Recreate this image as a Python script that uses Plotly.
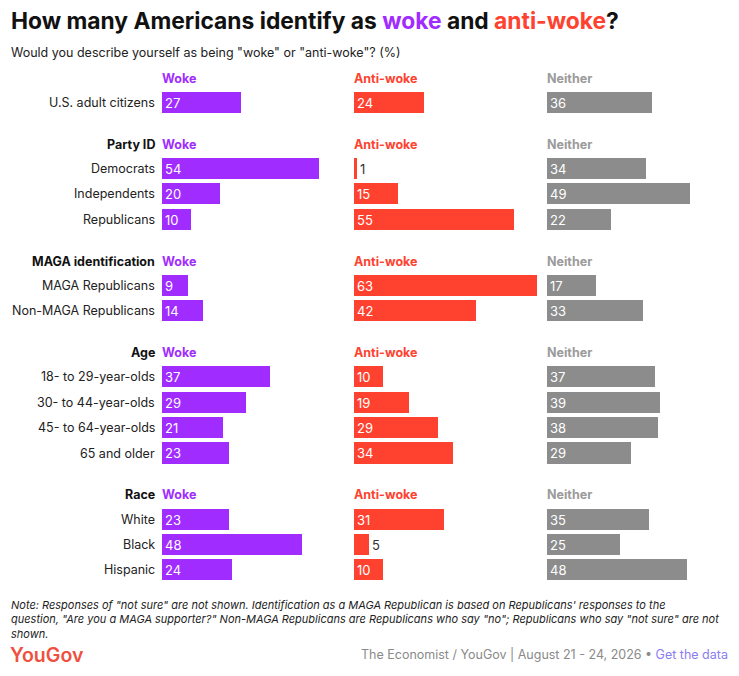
import plotly.graph_objects as go

# ---------------- data ----------------
group_names = ["", "Party ID", "MAGA identification", "Age", "Race"]
group_rows = [
    ["U.S. adult citizens"],
    ["Democrats", "Independents", "Republicans"],
    ["MAGA Republicans", "Non-MAGA Republicans"],
    ["18- to 29-year-olds", "30- to 44-year-olds", "45- to 64-year-olds", "65 and older"],
    ["White", "Black", "Hispanic"],
]
woke = [27, 54, 20, 10, 9, 14, 37, 29, 21, 23, 23, 48, 24]
anti_woke = [24, 1, 15, 55, 63, 42, 10, 19, 29, 34, 31, 5, 10]
neither = [36, 34, 49, 22, 17, 33, 37, 39, 38, 29, 35, 25, 48]
series_names = ["Woke", "Anti-woke", "Neither"]

# ---------------- styling ----------------
PAGE_W, PAGE_H = 739, 676
OX, OY = 8, 8                      # default page body margin
FW, FH = PAGE_W - 2 * OX, PAGE_H - 2 * OY
PURPLE = "#a12cff"
RED = "#ff4230"
GREY = "#8c8c8c"
HEAD_GREY = "#9b9b9b"
FONT = "Inter, Roboto, sans-serif"
colors = [PURPLE, RED, GREY]
head_colors = [PURPLE, RED, HEAD_GREY]

PX_PER_UNIT = 2.91
panel_left = [162, 354, 547]
panel_right = [350, 543, OX + FW]

ROW_PX = 25.4
FIRST_ROW_PX = 102.5
GROUP_GAP = 1.6
HEADER_OFF = 0.95


def fx(px):
    return (px - OX) / FW


def fy(py):
    return 1 - (py - OY) / FH


# row positions (in row units) computed from group structure
row_pos, row_labels, header_pos = [], [], []
cursor = 0.0
for gname, rows in zip(group_names, group_rows):
    header_pos.append(cursor - HEADER_OFF)
    for i, r in enumerate(rows):
        row_pos.append(cursor + i)
        row_labels.append(r)
    cursor += len(rows) + GROUP_GAP

y_top = (OY - FIRST_ROW_PX) / ROW_PX
y_bot = (OY + FH - FIRST_ROW_PX) / ROW_PX

fig = go.Figure()
all_vals = [woke, anti_woke, neither]
axes = ["x", "x2", "x3"]
for k, vals in enumerate(all_vals):
    pos = ["inside" if v * PX_PER_UNIT > 22 else "outside" for v in vals]
    tcol = ["white" if p == "inside" else "#333333" for p in pos]
    fig.add_trace(go.Bar(
        x=vals, y=row_pos, orientation="h",
        marker=dict(color=colors[k], line=dict(width=0)),
        width=0.83,
        text=[str(v) for v in vals],
        textposition=pos,
        textangle=0,
        insidetextanchor="start",
        textfont=dict(family=FONT, size=13, color=tcol),
        cliponaxis=False,
        xaxis=axes[k], yaxis="y",
        showlegend=False, hoverinfo="skip",
        name=series_names[k],
    ))


def xaxis_cfg(k):
    left, right = panel_left[k], panel_right[k]
    return dict(domain=[fx(left), fx(right)], anchor="y",
                range=[0, (right - left) / PX_PER_UNIT],
                showgrid=False, zeroline=False, showticklabels=False,
                showline=False, ticks="", fixedrange=True)


fig.update_layout(
    width=FW, height=FH,
    margin=dict(l=0, r=0, t=0, b=0),
    paper_bgcolor="white", plot_bgcolor="white",
    xaxis=xaxis_cfg(0), xaxis2=xaxis_cfg(1), xaxis3=xaxis_cfg(2),
    yaxis=dict(domain=[0, 1], range=[y_bot, y_top], showgrid=False, zeroline=False,
               showticklabels=False, ticks="", showline=False, anchor="x"),
    bargap=0,
    uniformtext=dict(minsize=13, mode="show"),
)

ann = []
# row labels
for y, lab in zip(row_pos, row_labels):
    ann.append(dict(x=fx(157), xref="paper", y=y, yref="y", text=lab, showarrow=False,
                    xanchor="right", yanchor="middle",
                    font=dict(family=FONT, size=12.5, color="#222222")))
# headers
for y, g in zip(header_pos, group_names):
    if g:
        ann.append(dict(x=fx(157), xref="paper", y=y, yref="y", text="<b>%s</b>" % g,
                        showarrow=False, xanchor="right", yanchor="middle",
                        font=dict(family=FONT, size=12.5, color="#111111")))
    for k in range(3):
        ann.append(dict(x=0, xref=axes[k], y=y, yref="y", text="<b>%s</b>" % series_names[k],
                        showarrow=False, xanchor="left", yanchor="middle", xshift=-2,
                        font=dict(family=FONT, size=12.5, color=head_colors[k])))

# title / subtitle
ann.append(dict(x=fx(9), y=fy(21), xref="paper", yref="paper", xanchor="left", yanchor="middle",
                showarrow=False,
                text="<b>How many Americans identify as <span style='color:%s'>woke</span> and "
                     "<span style='color:%s'>anti-woke</span>?</b>" % (PURPLE, RED),
                font=dict(family=FONT, size=22.8, color="#111111")))
ann.append(dict(x=fx(9), y=fy(53), xref="paper", yref="paper", xanchor="left", yanchor="middle",
                showarrow=False,
                text='Would you describe yourself as being "woke" or "anti-woke"? (%)',
                font=dict(family=FONT, size=12.5, color="#222222")))
# note
ann.append(dict(x=fx(9), y=fy(619.5), xref="paper", yref="paper", xanchor="left", yanchor="middle",
                showarrow=False, align="left",
                text="<i>Note: Responses of \"not sure\" are not shown. Identification as a MAGA Republican is based on Republicans' responses to the<br>"
                     "question, \"Are you a MAGA supporter?\" Non-MAGA Republicans are Republicans who say \"no\"; Republicans who say \"not sure\" are not<br>"
                     "shown.</i>",
                font=dict(family=FONT, size=11, color="#222222")))
# logo
ann.append(dict(x=fx(8), y=fy(655), xref="paper", yref="paper", xanchor="left", yanchor="middle",
                showarrow=False, text="YouGov",
                font=dict(family=FONT, size=19.5, color="#f0503f", weight=600)))
ann.append(dict(x=fx(730), y=fy(654), xref="paper", yref="paper", xanchor="right", yanchor="middle",
                showarrow=False,
                text="The Economist / YouGov | August 21 - 24, 2026 • <span style='color:#8a7df2'>Get the data</span>",
                font=dict(family=FONT, size=12.5, color="#8a8a8a")))

fig.update_layout(annotations=ann)
fig.write_html("out.html")
